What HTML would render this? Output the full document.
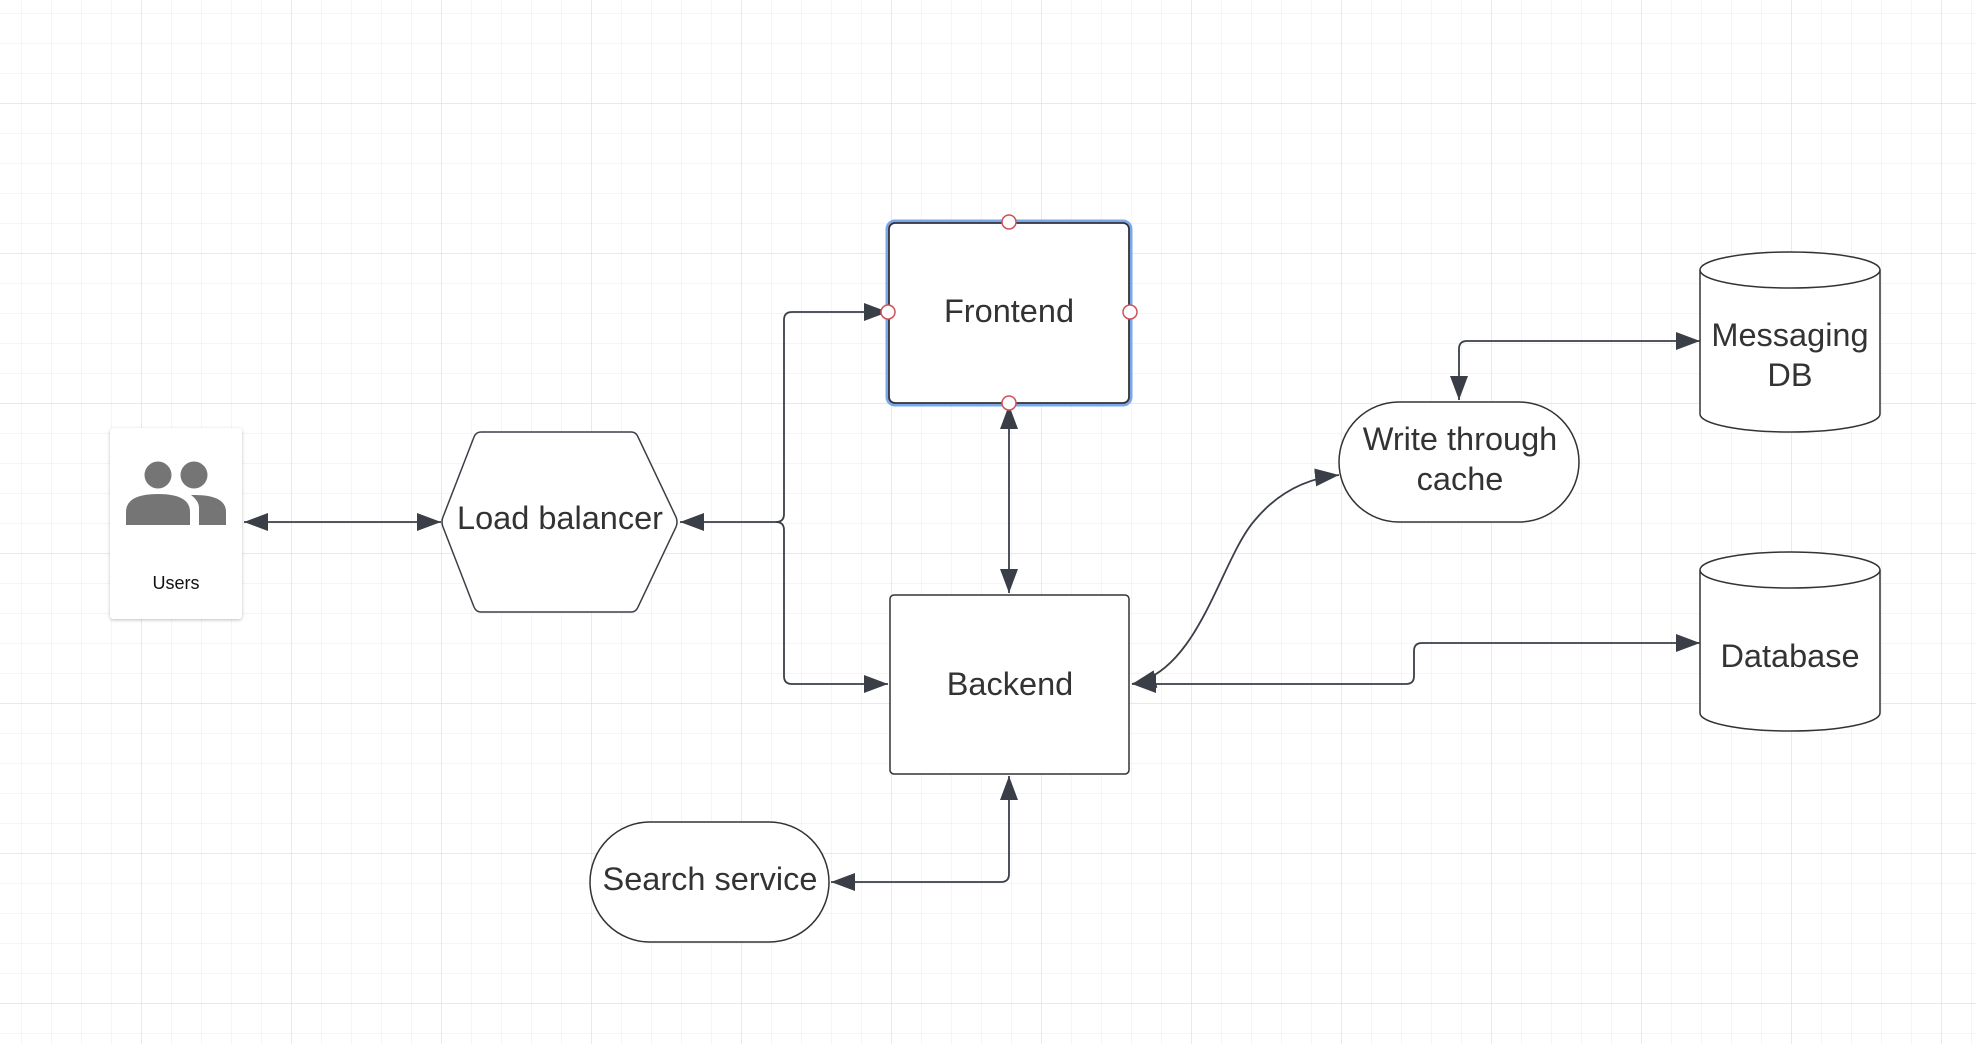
<!DOCTYPE html>
<html><head><meta charset="utf-8"><style>
html,body{margin:0;padding:0;background:#fff;}
svg{display:block;font-family:"Liberation Sans",Arial,sans-serif;}
</style></head><body>
<svg width="1976" height="1044" viewBox="0 0 1976 1044" xmlns="http://www.w3.org/2000/svg">
<defs>
<pattern id="minor" x="21" y="13" width="30" height="30" patternUnits="userSpaceOnUse">
<path d="M0 0H30M0 0V30" stroke="#ebebeb" stroke-width="1" fill="none"/>
</pattern>
<pattern id="major" x="141" y="103" width="150" height="150" patternUnits="userSpaceOnUse">
<path d="M0 0H150M0 0V150" stroke="#dcdcdc" stroke-width="1.2" fill="none"/>
</pattern>
<marker id="a" viewBox="0 0 10 10" refX="10" refY="5" markerWidth="24" markerHeight="18" markerUnits="userSpaceOnUse" orient="auto-start-reverse" preserveAspectRatio="none">
<path d="M0 0L10 5L0 10z" fill="#3a3f47"/>
</marker>
<filter id="sh" x="-10%" y="-10%" width="120%" height="120%"><feDropShadow dx="0" dy="1" stdDeviation="1.5" flood-color="#000" flood-opacity="0.25"/></filter>
</defs>
<rect width="1976" height="1044" fill="url(#minor)"/>
<rect width="1976" height="1044" fill="url(#major)"/>

<g stroke="#3a3f47" stroke-width="1.8" fill="none">
<path d="M244 522H441" marker-start="url(#a)" marker-end="url(#a)"/>
<path d="M680 522H776q8 0 8-8V320q0-8 8-8H888" marker-start="url(#a)" marker-end="url(#a)"/>
<path d="M776 522q8 0 8 8V676q0 8 8 8H888"  marker-end="url(#a)"/>
<path d="M1009 405V593" marker-start="url(#a)" marker-end="url(#a)"/>
<path d="M1009 776V874q0 8-8 8H831" marker-start="url(#a)" marker-end="url(#a)"/>
<path d="M1132 684H1406q8 0 8-8V651q0-8 8-8H1700" marker-start="url(#a)" marker-end="url(#a)"/>
<path d="M1132 684C1200 670 1220 560 1255 520C1280 490 1310 478 1339 475" marker-start="url(#a)" marker-end="url(#a)"/>
<path d="M1459 400V349q0-8 8-8H1700" marker-start="url(#a)" marker-end="url(#a)"/>
</g>

<rect x="110" y="428" width="132" height="191" rx="3" fill="#fff" filter="url(#sh)"/>
<g fill="#757575">
<circle cx="158" cy="475" r="13.5"/>
<circle cx="194" cy="475" r="13.5"/>
<path d="M126 525V512q0-18 32-18q32 0 32 18V525z"/>
<path d="M199 525V508q0-7-8-13q35-1 35 17V525z"/>
</g>
<text x="176" y="589" font-size="18" text-anchor="middle" fill="#111">Users</text>

<path d="M443 517L474 437Q476 432 481 432H631Q636 432 638 437L676 517Q678 522 676 527L638 607Q636 612 631 612H481Q476 612 474 607L443 527Q441 522 443 517Z" fill="#fff" stroke="#3a3f47" stroke-width="1.5"/>
<text x="560" y="529" font-size="32.5" text-anchor="middle" fill="#333">Load balancer</text>

<rect x="887" y="221" width="244" height="184" rx="8" fill="none" stroke="#7aa7ea" stroke-width="3"/>
<rect x="889" y="223" width="240" height="180" rx="6" fill="#fff" stroke="#333" stroke-width="1.8"/>
<text x="1009" y="322" font-size="32.5" text-anchor="middle" fill="#333">Frontend</text>
<g fill="#fff" stroke="#d0505a" stroke-width="1.5">
<circle cx="1009" cy="222" r="7"/><circle cx="1009" cy="403" r="7"/>
<circle cx="888" cy="312" r="7"/><circle cx="1130" cy="312" r="7"/>
</g>

<rect x="890" y="595" width="239" height="179" rx="4" fill="#fff" stroke="#333" stroke-width="1.5"/>
<text x="1010" y="695" font-size="32.5" text-anchor="middle" fill="#333">Backend</text>

<rect x="590" y="822" width="239" height="120" rx="60" fill="#fff" stroke="#333" stroke-width="1.5"/>
<text x="710" y="890" font-size="32.5" text-anchor="middle" fill="#333">Search service</text>

<rect x="1339" y="402" width="240" height="120" rx="60" fill="#fff" stroke="#333" stroke-width="1.5"/>
<text x="1460" y="450" font-size="32.5" text-anchor="middle" fill="#333">Write through</text>
<text x="1460" y="490" font-size="32.5" text-anchor="middle" fill="#333">cache</text>

<path d="M1700 270V414A90 18 0 0 0 1880 414V270" fill="#fff" stroke="#333" stroke-width="1.5"/>
<ellipse cx="1790" cy="270" rx="90" ry="18" fill="#fff" stroke="#333" stroke-width="1.5"/>
<text x="1790" y="346" font-size="32.5" text-anchor="middle" fill="#333">Messaging</text>
<text x="1790" y="386" font-size="32.5" text-anchor="middle" fill="#333">DB</text>

<path d="M1700 570V713A90 18 0 0 0 1880 713V570" fill="#fff" stroke="#333" stroke-width="1.5"/>
<ellipse cx="1790" cy="570" rx="90" ry="18" fill="#fff" stroke="#333" stroke-width="1.5"/>
<text x="1790" y="667" font-size="32.5" text-anchor="middle" fill="#333">Database</text>
</svg>
</body></html>
